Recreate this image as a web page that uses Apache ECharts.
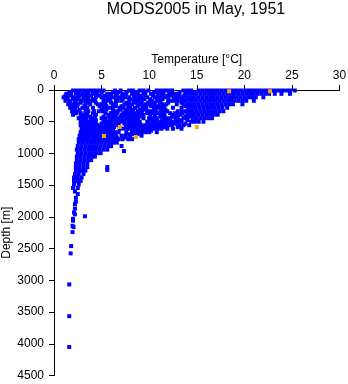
<!DOCTYPE html>
<html>
<head>
<meta charset="utf-8">
<title>MODS2005 in May, 1951</title>
<script src="https://cdn.jsdelivr.net/npm/echarts@6/dist/echarts.min.js"></script>
<style>
  html, body { margin: 0; padding: 0; background: #fff; }
  #chart { width: 348px; height: 384px; }
</style>
</head>
<body>
<div id="chart"></div>
<script>
// depth levels [m] and the temperatures [C] at each level
const depthLevels = [8, 60, 115, 170, 225, 280, 335, 390, 445, 500, 555, 610, 665, 720, 775, 830, 885, 940, 995, 1050, 1105, 1160, 1215, 1270, 1325, 1380, 1435, 1490];
const tempsAtLevel = [
  [2.0, 2.4, 2.8, 3.2, 3.6, 4.0, 4.4, 4.8, 5.2, 6.4, 7.0, 7.9, 8.3, 9.0, 9.4, 9.9, 10.8, 11.2, 11.6, 12.0, 12.4, 13.6, 14.0, 14.4, 15.2, 15.6, 16.0, 16.4, 16.8, 17.2, 17.6, 18.0, 18.4, 18.8, 19.2, 19.6, 20.0, 20.4, 20.8, 21.2, 21.6, 22.0, 22.4, 22.8, 23.2, 23.6, 24.0, 24.4, 24.8, 25.3],
  [1.3, 1.8, 2.3, 3.0, 3.6, 4.1, 4.5, 5.6, 6.0, 6.5, 7.2, 7.6, 8.2, 8.8, 9.4, 10.2, 10.9, 11.5, 12.1, 12.5, 12.9, 13.8, 14.2, 14.6, 15.0, 15.4, 15.8, 16.2, 16.6, 17.0, 17.4, 17.8, 18.2, 18.6, 19.0, 19.4, 19.8, 20.2, 20.6, 21.0, 21.4, 21.8, 22.2, 22.6, 23.2, 23.9, 24.8],
  [1.0, 1.4, 2.0, 2.4, 3.1, 3.5, 4.4, 5.0, 5.6, 6.2, 6.9, 7.5, 7.9, 8.6, 9.2, 9.8, 10.6, 11.0, 11.6, 12.6, 13.0, 13.4, 14.0, 14.4, 14.8, 15.2, 15.6, 16.0, 16.4, 16.8, 17.2, 17.6, 18.0, 18.4, 18.8, 19.2, 19.6, 20.0, 20.4, 20.8, 21.2, 22.0],
  [1.2, 1.7, 2.3, 2.9, 3.3, 3.9, 4.3, 5.5, 5.9, 6.7, 7.1, 7.9, 8.4, 8.8, 9.2, 10.3, 10.8, 11.2, 12.2, 12.6, 13.0, 13.4, 13.8, 14.2, 14.6, 15.0, 15.4, 15.8, 16.2, 16.6, 17.0, 17.4, 17.8, 18.2, 18.6, 19.0, 19.4, 19.8, 20.2, 21.0],
  [1.5, 2.0, 2.5, 3.3, 3.8, 4.6, 5.0, 5.4, 6.2, 7.4, 7.8, 8.2, 9.0, 9.6, 10.0, 10.6, 11.4, 11.8, 12.9, 13.6, 14.0, 14.4, 14.8, 15.2, 15.6, 16.0, 16.4, 16.8, 17.2, 17.6, 18.0, 18.4, 18.8, 19.8],
  [1.7, 2.2, 3.0, 3.5, 4.1, 5.2, 5.7, 6.1, 6.9, 7.3, 8.0, 8.5, 9.3, 9.7, 10.5, 10.9, 11.3, 12.5, 13.4, 14.1, 14.5, 14.9, 15.3, 15.7, 16.1, 16.5, 16.9, 17.3, 17.7, 18.2],
  [1.9, 2.4, 3.6, 4.2, 4.7, 5.1, 6.3, 6.7, 7.5, 8.0, 8.8, 9.2, 9.9, 10.3, 10.7, 11.5, 11.9, 13.0, 13.4, 13.8, 14.2, 14.6, 15.0, 15.4, 15.8, 16.2, 16.6, 17.0, 17.4, 17.8],
  [2.0, 3.0, 3.5, 4.4, 5.7, 6.1, 6.5, 7.1, 7.6, 8.2, 8.6, 9.0, 9.4, 10.1, 10.6, 11.2, 11.6, 12.5, 12.9, 13.3, 14.0, 14.4, 14.8, 15.2, 15.6, 16.0, 16.4, 16.8, 17.2],
  [2.6, 3.0, 3.4, 4.0, 5.0, 5.4, 6.2, 6.8, 7.2, 7.6, 8.0, 8.4, 8.8, 9.4, 10.0, 10.4, 10.8, 11.4, 11.8, 12.2, 12.8, 13.6, 14.0, 15.0, 15.4, 15.8, 16.2, 16.6],
  [2.8, 3.2, 3.6, 4.2, 5.2, 5.6, 6.0, 6.6, 7.0, 7.4, 8.2, 8.6, 9.0, 9.8, 10.2, 10.6, 11.2, 11.6, 12.0, 12.6, 13.0, 13.4, 14.4, 14.8, 15.2, 15.7],
  [2.8, 3.2, 3.8, 4.2, 4.6, 5.4, 5.8, 6.2, 6.6, 7.6, 8.0, 8.4, 8.8, 9.2, 9.6, 10.0, 10.4, 10.8, 11.2, 11.6, 12.0, 12.4, 13.2, 13.6, 14.2],
  [2.9, 3.3, 3.7, 4.3, 4.7, 5.1, 5.5, 6.1, 6.9, 7.3, 7.7, 8.1, 8.5, 8.9, 9.3, 9.7, 10.1, 10.5, 10.9, 11.3, 11.9, 12.5, 13.4],
  [2.8, 3.2, 3.6, 4.0, 4.8, 5.2, 5.6, 6.0, 6.4, 6.8, 7.6, 8.4, 8.8, 9.2, 9.6, 10.0, 10.8],
  [2.7, 3.1, 3.5, 3.9, 4.3, 4.7, 5.1, 5.5, 5.9, 6.3, 7.1, 7.5, 7.9, 9.2],
  [2.6, 3.0, 3.4, 4.0, 4.4, 4.8, 5.2, 5.6, 6.0, 6.4, 6.8, 7.2, 7.8, 8.2],
  [2.6, 3.0, 3.4, 3.8, 4.2, 4.6, 5.0, 5.4, 5.8, 6.2, 6.6],
  [2.5, 2.9, 3.3, 3.7, 4.1, 4.5, 4.9, 5.3, 5.7, 6.0],
  [2.4, 2.8, 3.2, 3.6, 4.0, 4.4, 4.8, 5.2, 5.6],
  [2.5, 2.9, 3.3, 3.7, 4.1, 4.5, 4.9],
  [2.4, 2.8, 3.2, 3.6, 4.0, 4.3],
  [2.4, 2.8, 3.2, 3.6, 3.9],
  [2.3, 2.7, 3.1, 3.5],
  [2.3, 2.7, 3.1, 3.5],
  [2.3, 2.7, 3.0, 3.3],
  [2.2, 2.6, 3.1],
  [2.1, 2.5, 2.9],
  [2.1, 2.5, 2.8],
  [2.1, 2.6]
];
// the casts in between those levels
const midLevels = [35, 90, 145, 200, 255, 310, 365, 420, 475, 530, 585, 640, 695, 750, 805];
const tempsAtMidLevel = [
  [1.6, 2.6, 3.4, 4.2, 5.0, 6.2, 6.8, 7.6, 8.6, 9.6, 10.5, 11.3, 12.3, 13.2, 13.9, 14.8],
  [1.2, 1.7, 2.7, 3.3, 3.9, 4.8, 5.3, 5.9, 6.6, 7.2, 8.4, 9.0, 9.6, 10.4, 11.3, 11.9, 12.3, 13.2, 13.7],
  [1.4, 2.0, 2.6, 3.6, 4.1, 5.2, 5.8, 6.5, 7.2, 8.2, 8.9, 9.5, 10.1, 10.9, 11.4, 12.0, 12.8, 13.6],
  [1.6, 2.2, 2.8, 3.5, 4.4, 5.2, 6.0, 6.5, 7.6, 8.6, 9.2, 9.9, 10.4, 11.1, 12.0, 13.4],
  [1.9, 2.4, 3.2, 4.8, 5.5, 6.5, 7.1, 7.8, 8.8, 9.4, 10.2, 11.0, 11.6, 13.8],
  [2.1, 2.7, 3.3, 5.0, 5.5, 6.2, 7.0, 7.7, 8.3, 9.0, 9.5, 10.6, 11.2, 11.7],
  [2.3, 2.8, 3.3, 4.1, 5.4, 6.0, 6.6, 7.3, 7.8, 8.4, 8.8, 9.2, 9.8, 10.4, 11.0, 11.4, 12.2, 12.7, 13.5],
  [2.8, 3.2, 3.8, 4.3, 5.2, 5.8, 6.4, 7.0, 7.4, 8.0, 8.6, 9.0, 10.6, 11.2, 11.6, 12.4, 13.0, 13.8, 14.2, 14.6],
  [3.0, 3.4, 3.9, 4.4, 5.4, 5.9, 6.4, 7.2, 7.8, 8.4, 8.8, 10.8, 11.4, 12.2, 12.8, 13.2, 14.0, 14.6],
  [3.0, 3.5, 4.0, 4.4, 5.0, 5.6, 6.0, 6.4, 6.8, 7.4, 7.8, 8.2, 8.6, 9.0, 10.6, 11.0, 11.4, 11.8, 12.2, 12.8, 13.8],
  [3.1, 3.5, 4.0, 4.5, 4.9, 5.3, 5.7, 6.3, 7.6, 8.0, 8.4, 8.8, 9.2, 9.6, 10.0, 10.4, 10.8, 11.2, 11.6, 13.0],
  [3.0, 3.4, 3.8, 4.2, 4.6, 5.0, 5.4, 5.8, 6.2, 8.2, 8.6, 9.0, 9.4, 9.8, 10.2],
  [2.9, 3.3, 3.7, 4.1, 4.5, 4.9, 5.3, 5.7, 6.1, 6.5, 8.0, 8.4, 8.8],
  [2.8, 3.2, 3.6, 4.2, 4.6, 5.0, 5.4, 5.8, 6.2, 6.6, 7.4, 8.0],
  [2.7, 3.1, 3.5, 3.9, 4.3, 4.7, 5.1, 5.5, 5.9, 6.3]
];
// the sparse deep tail and the few strays, as [temperature, depth]
const deepPoints = [
  [2.0, 1545], [2.5, 1545], [2.2, 1600], [2.5, 1640], [2.3, 1700], [2.3, 1760], [2.2, 1800], [2.2, 1870],
  [2.1, 1930], [2.2, 1960], [3.25, 1990], [2.0, 2030], [2.0, 2060], [1.95, 2140], [2.05, 2160], [1.95, 2240],
  [1.8, 2460], [1.75, 2575], [1.6, 3065], [1.6, 3565], [1.6, 4050],
  [5.6, 1215], [5.6, 1260], [7.1, 883], [7.35, 962]
];
const orangePoints = [[18.4, 20], [22.7, 20], [15.0, 585], [6.9, 583], [5.25, 725], [8.6, 741]];

const chart = echarts.init(document.getElementById('chart'));

const bluePoints = [];
depthLevels.forEach(function (d, i) {
  tempsAtLevel[i].forEach(function (t) {
    bluePoints.push([t, d]);
  });
});
midLevels.forEach(function (d, i) {
  tempsAtMidLevel[i].forEach(function (t) {
    bluePoints.push([t, d]);
  });
});
deepPoints.forEach(function (p) { bluePoints.push(p); });

const fontName = '"Liberation Sans", Helvetica, Arial, sans-serif';
const axisLabelStyle = { color: '#000', fontFamily: fontName, fontSize: 12 };

chart.setOption({
  animation: false,
  backgroundColor: '#fff',
  title: {
    text: 'MODS2005 in May, 1951',
    left: 191,
    top: -3,
    textAlign: 'center',
    textStyle: { color: '#000', fontFamily: fontName, fontSize: 16, fontWeight: 'normal' }
  },
  grid: { left: 54, top: 90, width: 285.5, height: 285.5, containLabel: false, outerBoundsMode: 'none' },
  xAxis: {
    type: 'value',
    position: 'top',
    min: 0,
    max: 30,
    interval: 5,
    splitLine: { show: false },
    axisLine: { show: true, onZero: false, lineStyle: { color: '#000', width: 1 } },
    axisTick: { show: true, length: 5, lineStyle: { color: '#000' } },
    axisLabel: Object.assign({ margin: 8, showMinLabel: true, showMaxLabel: true }, axisLabelStyle),
    name: 'Temperature [°C]',
    nameLocation: 'middle',
    nameGap: 24,
    nameMoveOverlap: false,
    nameTextStyle: axisLabelStyle
  },
  yAxis: {
    type: 'value',
    inverse: true,
    min: 0,
    max: 4500,
    interval: 500,
    splitLine: { show: false },
    axisLine: { show: true, onZero: false, lineStyle: { color: '#000', width: 1 } },
    axisTick: { show: true, length: 5, lineStyle: { color: '#000' } },
    axisLabel: Object.assign({ margin: 10, formatter: function (v) { return String(v); }, showMinLabel: true, showMaxLabel: true }, axisLabelStyle),
    name: 'Depth [m]',
    nameLocation: 'middle',
    nameGap: 41,
    nameMoveOverlap: false,
    nameTextStyle: axisLabelStyle
  },
  series: [
    {
      name: 'MODS2005',
      type: 'scatter',
      symbol: 'rect',
      symbolSize: 4,
      data: bluePoints,
      itemStyle: { color: '#0000ff', opacity: 1 },
      z: 2
    },
    {
      name: 'flagged',
      type: 'scatter',
      symbol: 'rect',
      symbolSize: 4,
      data: orangePoints,
      itemStyle: { color: '#ffa500', opacity: 1 },
      z: 3
    }
  ]
});

window.addEventListener('resize', function () {
  chart.resize();
});
</script>
</body>
</html>
